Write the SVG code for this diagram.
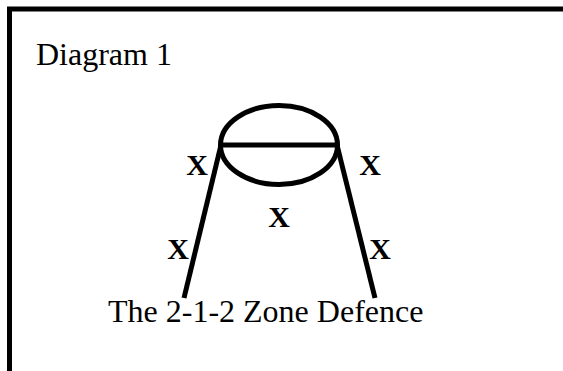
<svg xmlns="http://www.w3.org/2000/svg" width="563" height="371" viewBox="0 0 563 371">
<style>
.ln{stroke:#000;stroke-width:5;fill:none}
.t{font-family:"Liberation Serif","Times New Roman",serif;font-size:32px;fill:#000}
.x{font-family:"Liberation Serif","Times New Roman",serif;font-size:30px;font-weight:bold;fill:#000;text-anchor:middle}
</style>
<rect width="563" height="371" fill="#fff"/>
<g id="frame"><path class="ln" d="M9.5,371 V9 H563"/></g>
<text class="t" x="36" y="65">Diagram 1</text>
<g id="key">
<ellipse class="ln" cx="279" cy="145" rx="58.5" ry="39.5"/>
</g>
<g id="connectors">
<line class="ln" x1="220" y1="145" x2="338" y2="145"/>
<line class="ln" x1="221" y1="145" x2="184" y2="298"/>
<line class="ln" x1="337" y1="145" x2="375" y2="298"/>
</g>
<g id="players">
<text class="x" x="197" y="175">X</text>
<text class="x" x="370" y="175">X</text>
<text class="x" x="279" y="227">X</text>
<text class="x" x="178" y="259">X</text>
<text class="x" x="380" y="259">X</text>
</g>
<text class="t" x="108" y="322">The 2-1-2 Zone Defence</text>
</svg>
